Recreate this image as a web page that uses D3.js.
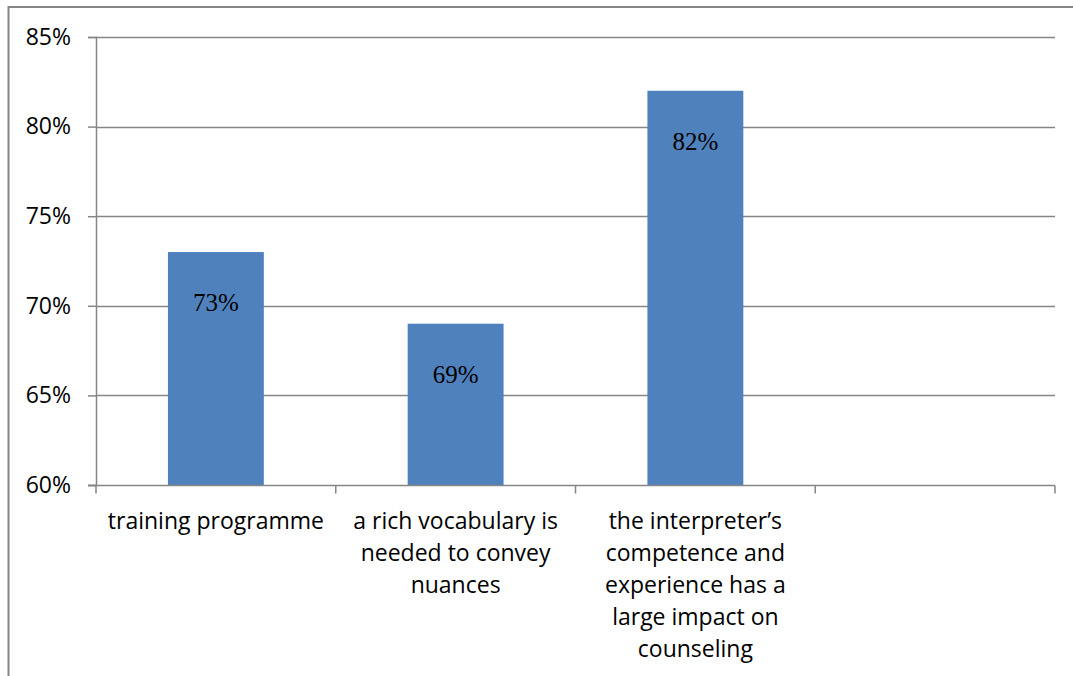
<!DOCTYPE html>
<html>
<head>
<meta charset="utf-8">
<script src="https://cdn.jsdelivr.net/npm/d3@7"></script>
<style>
  html, body { margin: 0; padding: 0; background: #fff; }
  svg { display: block; }
</style>
</head>
<body>
<svg id="chart" width="1073" height="676"></svg>
<script>
// Survey agreement shares per statement
const categories = [
  ["training programme"],
  ["a rich vocabulary is", "needed to convey", "nuances"],
  ["the interpreter\u2019s", "competence and", "experience has a", "large impact on", "counseling"],
  [""]
];
const values = [0.73, 0.69, 0.82, null];
const valueLabels = ["73%", "69%", "82%", ""];
const yTicks = [0.60, 0.65, 0.70, 0.75, 0.80, 0.85];

const svg = d3.select("#chart");
const W = 1073, H = 676;
const margin = { left: 96, right: 18, top: 37, bottom: 191 };
const gray = "#868686";

// outer frame (extends past the right and bottom edges)
svg.append("rect")
  .attr("x", 8.5).attr("y", 7).attr("width", W + 20).attr("height", H + 20)
  .attr("fill", "none").attr("stroke", gray).attr("stroke-width", 2);

const x = d3.scaleBand()
  .domain(d3.range(categories.length))
  .range([margin.left, W - margin.right])
  .paddingInner(0).paddingOuter(0);

const y = d3.scaleLinear()
  .domain([0.60, 0.85])
  .range([H - margin.bottom, margin.top]);

// horizontal gridlines
svg.append("g")
  .selectAll("line")
  .data(yTicks.slice(1))
  .join("line")
  .attr("x1", margin.left).attr("x2", W - margin.right)
  .attr("y1", d => Math.round(y(d)) + 0.5).attr("y2", d => Math.round(y(d)) + 0.5)
  .attr("stroke", gray).attr("stroke-width", 1.5);

// bars
const barW = x.bandwidth() * 0.4;
svg.append("g")
  .selectAll("rect")
  .data(values.map((v, i) => ({ v, i })).filter(d => d.v != null))
  .join("rect")
  .attr("x", d => x(d.i) + (x.bandwidth() - barW) / 2)
  .attr("y", d => y(d.v))
  .attr("width", barW)
  .attr("height", d => y(0.60) - y(d.v))
  .attr("fill", "#4F81BD");

// value labels inside bars
svg.append("g")
  .selectAll("text")
  .data(values.map((v, i) => ({ v, i })).filter(d => d.v != null))
  .join("text")
  .attr("x", d => x(d.i) + x.bandwidth() / 2)
  .attr("y", d => y(d.v) + 59)
  .attr("text-anchor", "middle")
  .attr("font-family", "'Liberation Serif', 'Times New Roman', serif")
  .attr("font-size", 25)
  .attr("fill", "#000")
  .text(d => valueLabels[d.i]);

// y axis
const yAxis = d3.axisLeft(y)
  .tickValues(yTicks)
  .tickFormat(d3.format(".0%"))
  .tickSize(8)
  .tickPadding(17);
const gy = svg.append("g")
  .attr("transform", `translate(${margin.left},0)`)
  .call(yAxis);
gy.select(".domain").attr("stroke", gray).attr("stroke-width", 1.5);
gy.selectAll(".tick line").attr("stroke", gray).attr("stroke-width", 1.5);
gy.selectAll(".tick text")
  .attr("font-family", "'Open Sans', 'Liberation Sans', sans-serif")
  .attr("font-size", 23).attr("fill", "#000");

// x axis baseline and ticks at band boundaries
const xBase = Math.round(y(0.60)) + 0.5;
svg.append("line")
  .attr("x1", margin.left - 8).attr("x2", W - margin.right)
  .attr("y1", xBase).attr("y2", xBase)
  .attr("stroke", gray).attr("stroke-width", 1.5);
const bounds = d3.range(categories.length + 1).map(i =>
  i < categories.length ? x(i) : x(categories.length - 1) + x.bandwidth());
svg.append("g")
  .selectAll("line")
  .data(bounds)
  .join("line")
  .attr("x1", d => d).attr("x2", d => d)
  .attr("y1", xBase).attr("y2", xBase + 8)
  .attr("stroke", gray).attr("stroke-width", 1.5);

// category labels
const lab = svg.append("g")
  .selectAll("text")
  .data(categories.map((c, i) => ({ c, i })))
  .join("text")
  .attr("x", d => x(d.i) + x.bandwidth() / 2)
  .attr("y", xBase + 43)
  .attr("text-anchor", "middle")
  .attr("font-family", "'Open Sans', 'Liberation Sans', sans-serif")
  .attr("font-size", 23)
  .attr("fill", "#000");
lab.selectAll("tspan")
  .data(d => d.c.map(line => ({ line, cx: x(d.i) + x.bandwidth() / 2 })))
  .join("tspan")
  .attr("x", d => d.cx)
  .attr("dy", (d, j) => j === 0 ? 0 : 32)
  .text(d => d.line);
</script>
</body>
</html>
